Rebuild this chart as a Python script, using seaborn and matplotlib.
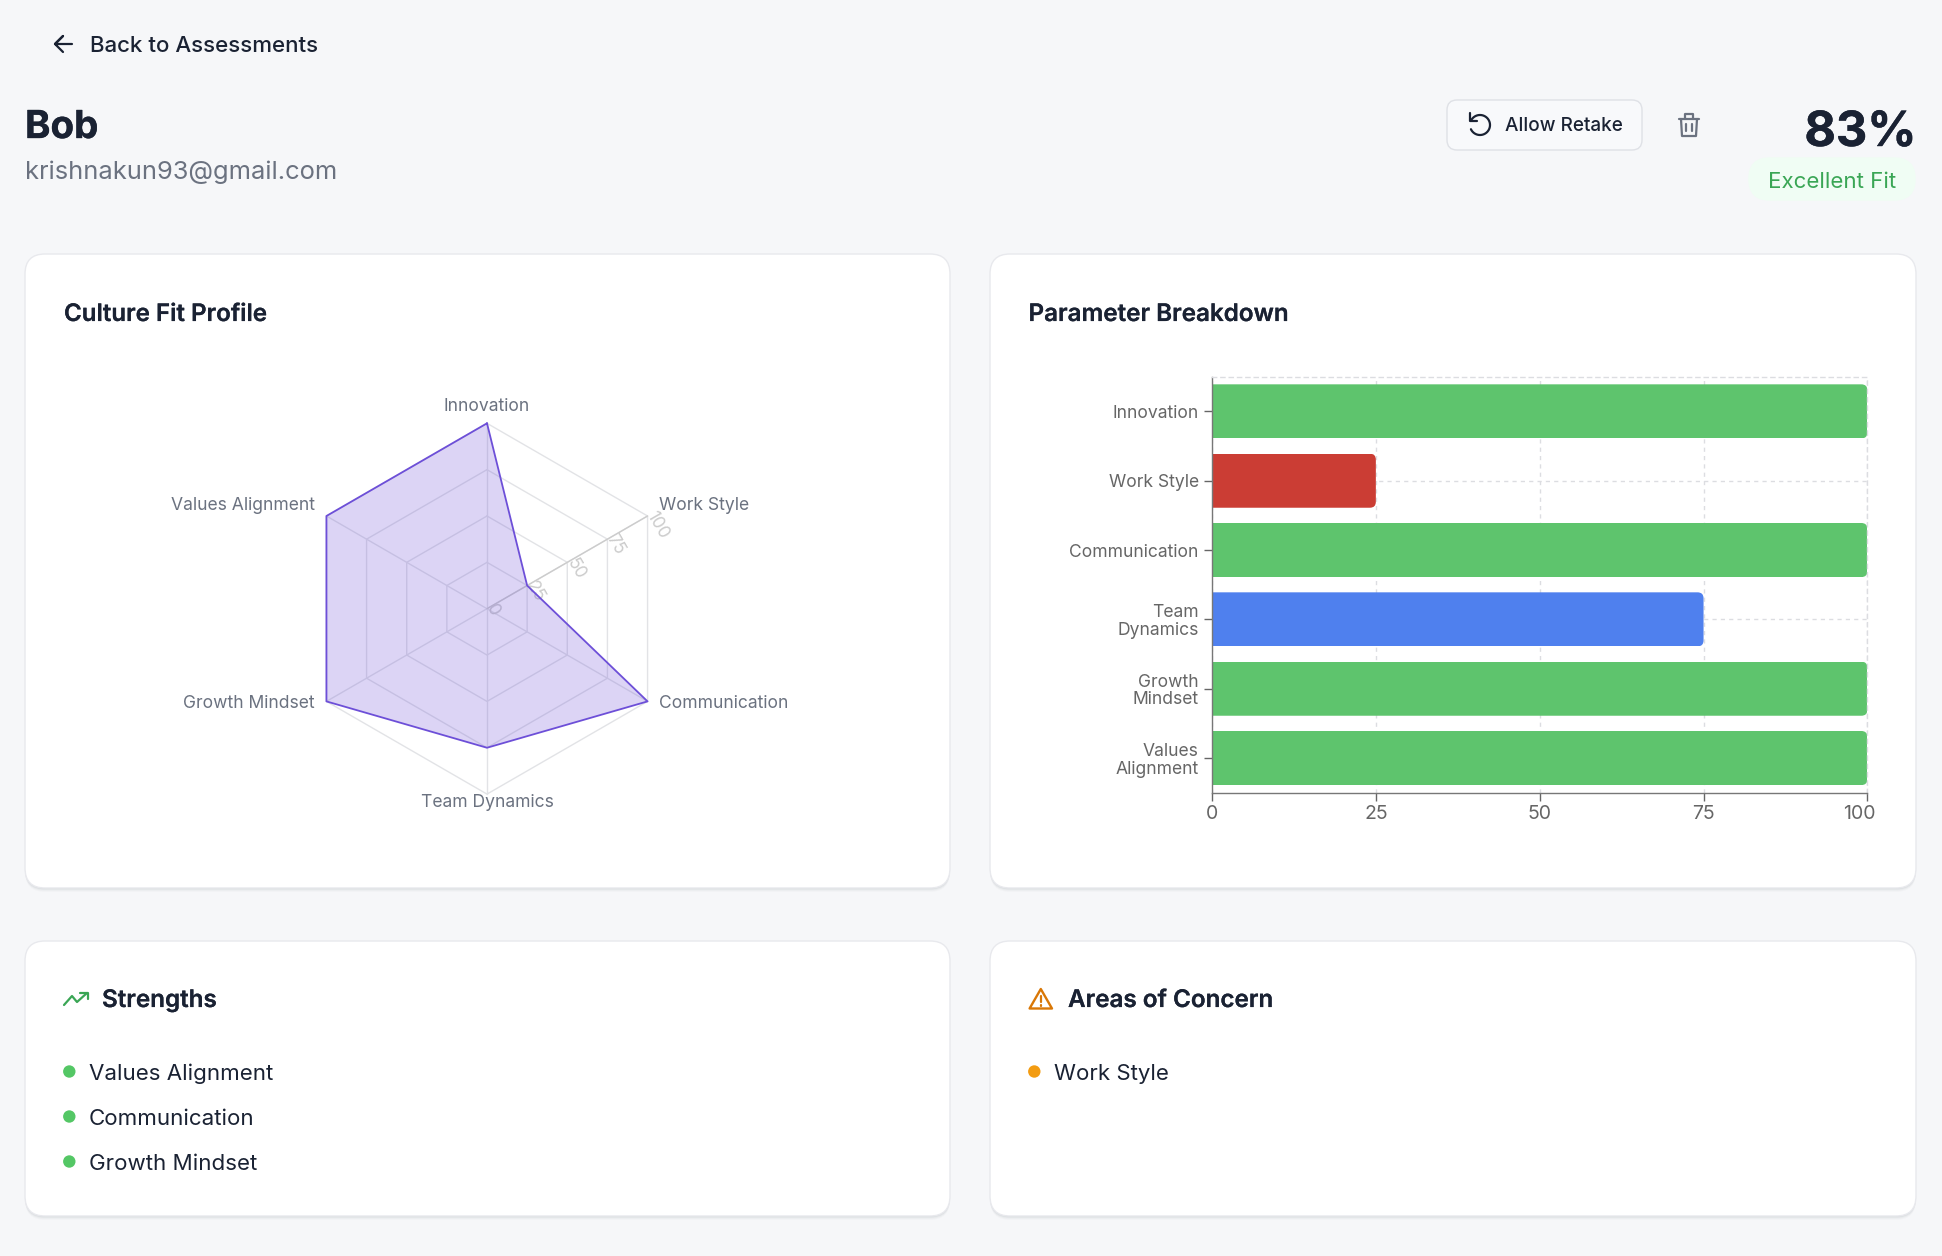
import numpy as np
import pandas as pd
import seaborn as sns
import matplotlib.pyplot as plt
import matplotlib.patheffects as pe
from matplotlib.patches import FancyBboxPatch, Polygon, Circle
from matplotlib.transforms import IdentityTransform, ScaledTranslation

# values
params = ['Innovation', 'Work Style', 'Communication', 'Team Dynamics', 'Growth Mindset', 'Values Alignment']
scores = [100, 25, 100, 75, 100, 100]
bar_labels = ['Innovation', 'Work Style', 'Communication', 'Team\nDynamics', 'Growth\nMindset', 'Values\nAlignment']
bar_colors = ['#5ec46d', '#cb3d34', '#5ec46d', '#4f80ee', '#5ec46d', '#5ec46d']
radar_ticks = [25, 50, 75, 100]
radar_tick_labels = [0, 25, 50, 75, 100]
bar_ticks = [0, 25, 50, 75, 100]
strengths = ['Values Alignment', 'Communication', 'Growth Mindset']
concerns = ['Work Style']

W, H = 1942, 1256
DARK = '#1a2233'
GREY = '#6b7280'
BG = '#f6f7f9'

sns.set_theme(style='white')
plt.rcParams['font.family'] = ['Inter', 'DejaVu Sans']

fig = plt.figure(figsize=(W / 100, H / 100), dpi=100, facecolor=BG)

# page layer in pixel coordinates
page = fig.add_axes([0, 0, 1, 1], zorder=0)
page.set_xlim(0, W)
page.set_ylim(H, 0)
page.axis('off')


def axes_rect(left, top, right, bottom):
    return [left / W, 1 - bottom / H, (right - left) / W, (bottom - top) / H]


def text(x, y, s, px, color=DARK, weight='normal', ha='left', stroke=0):
    t = page.text(x, y, s, fontsize=px * 0.72, color=color, fontweight=weight, ha=ha, va='baseline')
    if stroke:
        t.set_path_effects([pe.withStroke(linewidth=stroke, foreground=color)])


def card(x0, y0, x1, y1):
    r = 20
    for off, a in [(4, 0.015), (3, 0.025), (2, 0.04), (1, 0.05)]:
        page.add_patch(FancyBboxPatch((x0 + r, y0 + r + off), x1 - x0 - 2 * r, y1 - y0 - 2 * r,
                                      boxstyle=f'round,pad={r},rounding_size={r}',
                                      fc='#1a2233', ec='none', alpha=a))
    page.add_patch(FancyBboxPatch((x0 + r, y0 + r), x1 - x0 - 2 * r, y1 - y0 - 2 * r,
                                  boxstyle=f'round,pad={r},rounding_size={r}',
                                  fc='white', ec='#e8e9ed', lw=1))


def icon(xs, ys, color, lw=1.6):
    page.plot(xs, ys, color=color, lw=lw, solid_capstyle='round', solid_joinstyle='round')


card(25, 254, 950, 888)
card(990, 254, 1916, 888)
card(25, 941, 950, 1216)
card(990, 941, 1916, 1216)

# header
icon([72, 55, 63, 55, 63], [44, 44, 36, 44, 52], DARK)
text(89.5, 51.5, 'Back to Assessments', 22.3, DARK, 'medium')
text(25, 138, 'Bob', 38.5, DARK, 'bold', stroke=0.25)
text(25, 179.3, 'krishnakun93@gmail.com', 25.5, GREY)

page.add_patch(FancyBboxPatch((1457, 110), 175, 30, boxstyle='round,pad=10,rounding_size=10',
                              fc='#f8f9fb', ec='#dfe1e6', lw=1))
text(1505, 131, 'Allow Retake', 19, DARK, 'medium')

# retake icon
ang = np.radians(np.linspace(155, -155, 60))
icon(1480 + 10 * np.cos(ang), 125 - 10 * np.sin(ang), DARK)
icon([1470, 1470, 1477], [113, 121, 121], DARK)

# trash icon
icon([1679, 1699], [119, 119], GREY)
icon([1685, 1685, 1693, 1693], [119, 114, 114, 119], GREY)
icon([1681, 1682, 1696, 1697], [119, 136, 136, 119], GREY)
icon([1686, 1686], [124, 131], GREY)
icon([1692, 1692], [124, 131], GREY)

text(1916.5, 146, '83%', 48.5, DARK, 'bold', ha='right', stroke=0.3)
page.add_patch(FancyBboxPatch((1770, 179), 124, 0, boxstyle='round,pad=21.8,rounding_size=21.8',
                              fc='#f0fdf4', ec='none'))
text(1832, 188, 'Excellent Fit', 22.3, '#3aa655', ha='center')

# card titles
text(64, 321, 'Culture Fit Profile', 24.1, DARK, 'semibold', stroke=0.12)
text(1028.5, 321, 'Parameter Breakdown', 24.2, DARK, 'semibold', stroke=0.12)
text(102, 1007, 'Strengths', 24.2, DARK, 'semibold', stroke=0.12)
text(1068, 1007, 'Areas of Concern', 24.2, DARK, 'semibold', stroke=0.12)

# strengths and concern lists
for i, name in enumerate(strengths):
    y = 1080 + i * 45
    page.add_patch(Circle((69.3, y - 8.5), 6.2, fc='#54c765', ec='none'))
    text(89, y, name, 22.3, DARK)
for i, name in enumerate(concerns):
    y = 1080 + i * 45
    page.add_patch(Circle((1034.3, y - 8.5), 6.2, fc='#f39c12', ec='none'))
    text(1054.5, y, name, 22.3, DARK)

# trending up icon
icon([64, 72, 77, 87], [1005, 996, 1002, 993], '#3aa655')
icon([80, 87.5, 87.5], [993, 993, 999], '#3aa655')

# warning icon
page.add_patch(Polygon([[1040.8, 989], [1052, 1008.5], [1029.6, 1008.5]], closed=True, fc='none',
                       ec='#d97706', lw=1.7, joinstyle='round'))
icon([1040.8, 1040.8], [996, 1002], '#d97706')
icon([1040.8, 1040.8], [1005.3, 1005.5], '#d97706')

# radar chart
radar = fig.add_axes(axes_rect(487 - 185.4, 608.7 - 185.4, 487 + 185.4, 608.7 + 185.4),
                     projection='polar', zorder=1)
radar.set_theta_zero_location('N')
radar.set_theta_direction(-1)
theta = np.linspace(0, 2 * np.pi, len(params), endpoint=False)
theta_closed = np.append(theta, 2 * np.pi)
scores_closed = scores + scores[:1]

for t in radar_ticks:
    radar.plot(theta_closed, [t] * len(theta_closed), color='#e2e3e6', lw=1, clip_on=False, zorder=1)
for th in theta:
    radar.plot([th, th], [0, 100], color='#e2e3e6', lw=1, clip_on=False, zorder=1)
radar.plot([theta[1], theta[1]], [0, 100], color='#cccccc', lw=1, clip_on=False, zorder=1.5)

for t in radar_tick_labels:
    radar.annotate(str(t), xy=(theta[1], t), xytext=(3, 3), textcoords='offset pixels', fontsize=12.5,
                   color='#cccccc', rotation=-60, rotation_mode='anchor', ha='left', va='center',
                   annotation_clip=False, zorder=2)

radar.fill(theta_closed, scores_closed, color='#6d4fd8', alpha=0.24, lw=0, zorder=3, clip_on=False)
sns.lineplot(x=theta_closed, y=scores_closed, sort=False, estimator=None, color='#6d4fd8', lw=1.3,
             ax=radar, zorder=4, clip_on=False)
radar.set_ylim(0, 100)
radar.set_axis_off()

for th, name in zip(theta, params):
    s, c = np.sin(th), np.cos(th)
    ha = 'center' if abs(s) < 0.01 else ('left' if s > 0 else 'right')
    dx = 0 if abs(s) < 0.01 else (11 if s > 0 else -11.5)
    if abs(s) < 0.01:
        dy = 17 if c > 0 else -8.5
    else:
        dy = 11 if c > 0 else -2
    radar.annotate(name, xy=(th, 100), xytext=(dx, dy), textcoords='offset pixels', fontsize=12.6,
                   color=GREY, ha=ha, va='center', annotation_clip=False, zorder=5)

# bar chart
df = pd.DataFrame({'param': params, 'score': scores})
bars = fig.add_axes(axes_rect(1212, 376.7, 1867.4, 792.7), zorder=1)
bars.patch.set_alpha(0)
sns.barplot(data=df, x='score', y='param', hue='param', palette=bar_colors, saturation=1,
            width=0.78, linewidth=0, legend=False, ax=bars)
bars.set_xlim(0, 100)
bars.set_ylim(5.5, -0.5)
bars.set_xticks(bar_ticks)
bars.set_yticks(range(len(bar_labels)))
bars.set_yticklabels(bar_labels, linespacing=1.05)
bars.set_xlabel('')
bars.set_ylabel('')
bars.set_axisbelow(True)
bars.grid(True, color='#dcdde1', lw=1, linestyle=(0, (3, 3)))
for side in ['top', 'right']:
    bars.spines[side].set_visible(True)
    bars.spines[side].set_color('#dcdde1')
    bars.spines[side].set_linestyle((0, (3, 3)))
    bars.spines[side].set_linewidth(1)
for side in ['left', 'bottom']:
    bars.spines[side].set_visible(True)
    bars.spines[side].set_color('#777777')
    bars.spines[side].set_linewidth(1)
bars.tick_params(axis='both', length=6, width=1, color='#666666', labelcolor='#666666', labelsize=12.6,
                 left=True, bottom=True)
bars.tick_params(axis='y', pad=3.5)
bars.tick_params(axis='x', pad=2.5, labelsize=14)
last = bars.get_xticklabels()[-1]
last.set_transform(last.get_transform() + ScaledTranslation(-8 / 100, 0, fig.dpi_scale_trans))

# round the far corners of each bar
for bar in bars.patches:
    (x0, y0), (x1, y1) = bars.transData.transform(bar.get_bbox().get_points())
    y0, y1 = min(y0, y1), max(y0, y1)
    clip = FancyBboxPatch((x0 - 20, y0), x1 - x0 + 20, y1 - y0, boxstyle='round,pad=0,rounding_size=6',
                          transform=IdentityTransform())
    bar.set_clip_path(clip)

fig.savefig('out.png', dpi=100, facecolor=BG)
